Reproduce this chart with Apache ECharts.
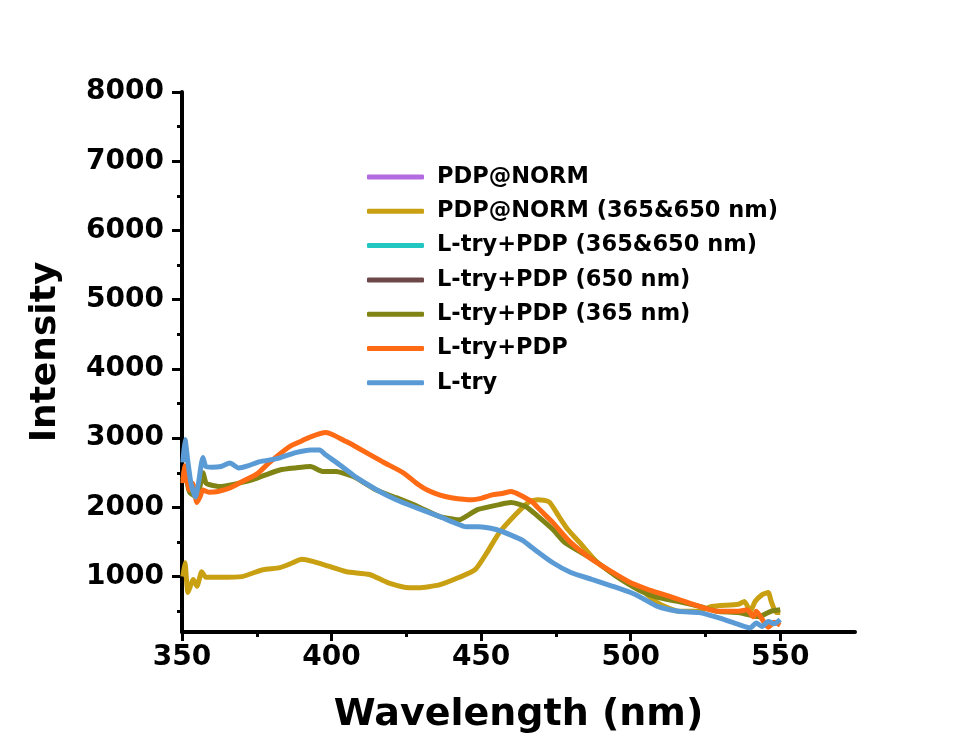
<!DOCTYPE html>
<html>
<head>
<meta charset="utf-8">
<script src="https://cdn.jsdelivr.net/npm/echarts@6/dist/echarts.min.js"></script>
<style>
html,body{margin:0;padding:0;background:#fff;}
#chart{width:977px;height:749px;}
</style>
</head>
<body>
<div id="chart"></div>
<script>
// ---- data (wavelength nm, intensity) ----
const seriesNames = ['PDP@NORM','PDP@NORM (365&650 nm)','L-try+PDP (365&650 nm)','L-try+PDP (650 nm)','L-try+PDP (365 nm)','L-try+PDP','L-try'];
const xTickValues = [350,400,450,500,550];
const xMinorTicks = [375,425,475,525];
const yTickValues = [1000,2000,3000,4000,5000,6000,7000,8000];
const yMinorTicks = [500,1500,2500,3500,4500,5500,6500,7500];

const pdpNorm = [];          // not visible in the plot
const ltryPdp365650 = [];    // not visible in the plot
const ltryPdp650 = [];       // not visible in the plot

const pdpNorm365650 = [[350.3,1000],[351,1200],[352,770],[353.8,960],[355,860],[356.6,1070],[358,990],[362.7,990],[370,1000],[377,1100],[382.7,1130],[387,1200],[390,1250],[393.7,1220],[399,1150],[405,1070],[412.7,1030],[419,910],[426,840],[429,840],[436,880],[442.7,990],[448,1100],[452,1350],[456,1630],[461.6,1900],[466,2080],[469,2110],[472.7,2080],[476,1870],[479,1680],[483,1490],[489,1200],[496,1000],[503,830],[509,620],[516,500],[522.7,500],[527,570],[536,600],[538,640],[540,500],[541.6,640],[544,740],[546,770],[547,640],[548.7,480],[550,480]];

const ltryPdp365 = [[350.3,2400],[351,2590],[352,2300],[352.7,2210],[355,2150],[356,2300],[357,2500],[358,2350],[359,2330],[362.7,2300],[368,2340],[373.7,2400],[378,2470],[382.7,2540],[388,2570],[393,2590],[397,2520],[401.6,2520],[405,2480],[408,2430],[415,2250],[421.6,2140],[429,2010],[436,1870],[442.7,1820],[445,1870],[449,1970],[456,2040],[460,2070],[465,2010],[469,1870],[474,1680],[478,1490],[483,1360],[489,1200],[496,980],[503,800],[509,700],[516,640],[523,570],[529,500],[536,480],[543,420],[545,460],[547,500],[550,520]];

const ltryPdp = [[350.3,2350],[350.8,2600],[351.5,2450],[352.5,2250],[353.5,2350],[355,2070],[356,2150],[357,2250],[359,2220],[362,2230],[366,2280],[370,2370],[375,2480],[379,2640],[386,2880],[390,2960],[393,3020],[398,3080],[400.4,3050],[404,2970],[408,2880],[417,2660],[424,2500],[429,2330],[432,2250],[436,2180],[440,2140],[447,2110],[450,2130],[453.7,2180],[457,2200],[460,2230],[463,2180],[467,2080],[470,1950],[474,1780],[480,1490],[487,1250],[494,1060],[500,910],[506,810],[509,770],[516,670],[523,570],[529,500],[536,500],[539,520],[541,420],[542,500],[544,380],[546,270],[548,340],[550,300]];

const ltry = [[350.3,2650],[351,2980],[352,2650],[353,2350],[354.5,2150],[355.5,2350],[357,2720],[358,2590],[360,2580],[363,2590],[366,2640],[369,2570],[372,2600],[376,2660],[380,2690],[383,2720],[388,2790],[393,2830],[396,2830],[398,2760],[401.6,2650],[405,2540],[408,2440],[415,2255],[421.6,2110],[428,2000],[436,1870],[441,1780],[445,1720],[449,1720],[455,1680],[460,1600],[464,1520],[467,1420],[474,1200],[480,1060],[487,960],[494,860],[500,770],[503,710],[509,570],[516,500],[523,480],[529,410],[536,310],[540,260],[542,330],[544,280],[546,350],[548,320],[550,380]];

const seriesData = [pdpNorm, pdpNorm365650, ltryPdp365650, ltryPdp650, ltryPdp365, ltryPdp, ltry];
const seriesColors = ['#B36BE0','#C9A011','#22C7C2','#6E4848','#808414','#FF6A14','#5B9BD5'];

const FONT = 'DejaVu Sans';
const plain = v => String(v);
const chart = echarts.init(document.getElementById('chart'));
chart.setOption({
  animation: false,
  backgroundColor: '#fff',
  grid: {left: 182, right: 122, top: 92, bottom: 117, containLabel: false},
  legend: {
    orient: 'vertical', left: 362, top: 160,
    itemWidth: 57, itemHeight: 5, itemGap: 10.3,
    icon: 'roundRect',
    data: seriesNames,
    textStyle: {fontFamily: FONT, fontWeight: 'bold', fontSize: 22.5, color: '#000', lineHeight: 24, padding: [0,0,0,8]}
  },
  xAxis: [{
    type: 'value', min: 350, max: 575,
    name: 'Wavelength (nm)', nameLocation: 'middle', nameGap: 64,
    nameTextStyle: {fontFamily: FONT, fontWeight: 'bold', fontSize: 38, color: '#000'},
    axisLine: {show: true, lineStyle: {color: '#000', width: 4}},
    axisTick: {show: true, customValues: xTickValues, length: 9, lineStyle: {color: '#000', width: 3}},
    axisLabel: {customValues: xTickValues, formatter: plain, margin: 12, fontFamily: FONT, fontWeight: 'bold', fontSize: 28, color: '#000'},
    splitLine: {show: false}
  },{
    type: 'value', min: 350, max: 575, position: 'bottom',
    axisLine: {show: false},
    axisTick: {show: true, customValues: xMinorTicks, length: 5, lineStyle: {color: '#000', width: 3}},
    axisLabel: {show: false}, splitLine: {show: false}
  }],
  yAxis: [{
    type: 'value', min: 200, max: 8000,
    name: 'Intensity', nameLocation: 'middle', nameGap: 118, nameRotate: 90,
    nameTextStyle: {fontFamily: FONT, fontWeight: 'bold', fontSize: 36, color: '#000', padding: [0,0,0,20]},
    axisLine: {show: true, lineStyle: {color: '#000', width: 4}},
    axisTick: {show: true, customValues: yTickValues, length: 10, lineStyle: {color: '#000', width: 3}},
    axisLabel: {customValues: yTickValues, formatter: plain, margin: 18, fontFamily: FONT, fontWeight: 'bold', fontSize: 28, color: '#000'},
    splitLine: {show: false}
  },{
    type: 'value', min: 200, max: 8000, position: 'left',
    axisLine: {show: false},
    axisTick: {show: true, customValues: yMinorTicks, length: 5, lineStyle: {color: '#000', width: 3}},
    axisLabel: {show: false}, splitLine: {show: false}
  }],
  series: seriesNames.map((n, i) => ({
    name: n, type: 'line', data: seriesData[i],
    xAxisIndex: 0, yAxisIndex: 0,
    showSymbol: false, symbol: 'none', smooth: 0.2,
    lineStyle: {color: seriesColors[i], width: 5},
    itemStyle: {color: seriesColors[i]}
  }))
});
</script>
</body>
</html>
